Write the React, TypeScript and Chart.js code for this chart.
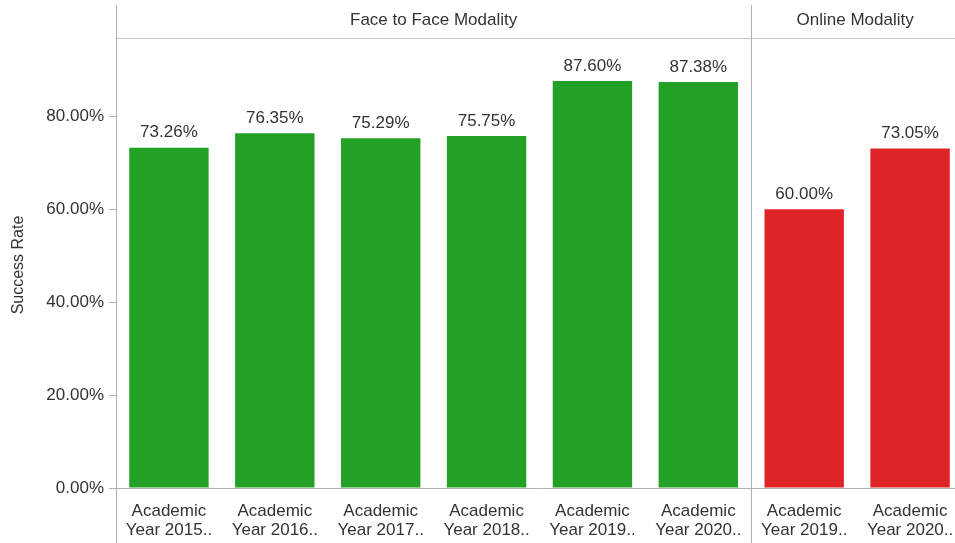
import React, { useEffect, useRef } from "react";
import { Chart, registerables } from "chart.js";

Chart.register(...registerables);

const categories: string[][] = [
  ["Academic", "Year 2015.."],
  ["Academic", "Year 2016.."],
  ["Academic", "Year 2017.."],
  ["Academic", "Year 2018.."],
  ["Academic", "Year 2019.."],
  ["Academic", "Year 2020.."],
  ["Academic", "Year 2019.."],
  ["Academic", "Year 2020.."],
];
const successRates: number[] = [73.26, 76.35, 75.29, 75.75, 87.6, 87.38, 60.0, 73.05];
const modality: string[] = ["F2F", "F2F", "F2F", "F2F", "F2F", "F2F", "Online", "Online"];
const panelHeaders: { label: string; from: number; to: number }[] = [
  { label: "Face to Face Modality", from: 0, to: 6 },
  { label: "Online Modality", from: 6, to: 8 },
];
const yTicks: number[] = [0, 20, 40, 60, 80];

const GREEN = "#22a126";
const RED = "#de2426";
const TEXT = "#333333";
const FONT = "'Liberation Sans', Arial, sans-serif";

export default function App() {
  const ref = useRef<HTMLCanvasElement | null>(null);

  useEffect(() => {
    if (!ref.current) return;
    const overlay = {
      id: "overlay",
      afterDatasetsDraw(chart: any) {
        const ctx = chart.ctx as CanvasRenderingContext2D;
        const area = chart.chartArea;
        const xs = chart.scales.x;
        const meta = chart.getDatasetMeta(0);
        ctx.save();
        // value labels
        ctx.font = `17px ${FONT}`;
        ctx.fillStyle = TEXT;
        ctx.textAlign = "center";
        ctx.textBaseline = "middle";
        meta.data.forEach((bar: any, i: number) => {
          ctx.fillText(successRates[i].toFixed(2) + "%", bar.x, bar.y - 15);
        });
        // lines
        ctx.strokeStyle = "#c4c4c4";
        ctx.lineWidth = 1;
        const halfW = (xs.getPixelForValue(1) - xs.getPixelForValue(0)) / 2;
        // header line
        ctx.beginPath();
        ctx.moveTo(area.left, 38.5);
        ctx.lineTo(chart.width, 38.5);
        ctx.stroke();
        // baseline
        ctx.strokeStyle = "#b0b0b0";
        ctx.beginPath();
        ctx.moveTo(area.left, Math.round(area.bottom) + 0.5);
        ctx.lineTo(chart.width, Math.round(area.bottom) + 0.5);
        ctx.stroke();
        // y axis line
        ctx.beginPath();
        ctx.moveTo(Math.round(area.left) + 0.5, 5);
        ctx.lineTo(Math.round(area.left) + 0.5, chart.height);
        ctx.stroke();
        // panel divider(s)
        panelHeaders.slice(1).forEach((p) => {
          const x = Math.round(xs.getPixelForValue(p.from) - halfW) + 0.5;
          ctx.beginPath();
          ctx.moveTo(x, 5);
          ctx.lineTo(x, chart.height);
          ctx.stroke();
        });
        // headers
        ctx.fillStyle = TEXT;
        ctx.font = `17px ${FONT}`;
        panelHeaders.forEach((p, idx) => {
          const l = xs.getPixelForValue(p.from) - halfW;
          let r = xs.getPixelForValue(p.to - 1) + halfW;
          if (idx === panelHeaders.length - 1) r = Math.min(r, 955);
          ctx.fillText(p.label, (l + r) / 2 + (idx === 1 ? 2 : 0), 20);
        });
        ctx.restore();
      },
    };

    const chart = new Chart(ref.current, {
      type: "bar",
      data: {
        labels: categories,
        datasets: [
          {
            label: "Success Rate",
            data: successRates,
            backgroundColor: modality.map((m) => (m === "F2F" ? GREEN : RED)),
            borderWidth: 0,
            categoryPercentage: 1,
            barPercentage: 0.75,
          },
        ],
      },
      options: {
        responsive: false,
        animation: false,
        layout: { padding: { top: 42, left: 0, right: 0, bottom: 0 } },
        plugins: {
          legend: { display: false },
          tooltip: { enabled: false },
        },
        scales: {
          x: {
            type: "category",
            grid: { display: false },
            border: { display: false },
            ticks: {
              color: TEXT,
              font: { family: FONT, size: 17, lineHeight: 1.1 },
              padding: 6,
              maxRotation: 0,
              autoSkip: false,
            },
            afterFit: (s: any) => {
              s.height = 55;
            },
          },
          y: {
            min: 0,
            max: 96,
            grid: {
              drawOnChartArea: false,
              drawTicks: true,
              tickLength: 7,
              color: "#b0b0b0",
            },
            border: { display: false },
            afterBuildTicks: (s: any) => {
              s.ticks = yTicks.map((v) => ({ value: v }));
            },
            ticks: {
              color: TEXT,
              font: { family: FONT, size: 17 },
              padding: 5,
              callback: (v: any) => Number(v).toFixed(2) + "%",
            },
            title: {
              display: true,
              text: "Success Rate",
              color: TEXT,
              font: { family: FONT, size: 16 },
              padding: { top: 9, bottom: 0 },
            },
            afterFit: (s: any) => {
              s.width = 116;
            },
          },
        },
      },
      plugins: [overlay],
    });
    return () => chart.destroy();
  }, []);

  return (
    <div
      style={{
        position: "fixed",
        left: 0,
        top: 0,
        width: 955,
        height: 543,
        overflow: "hidden",
        background: "#ffffff",
      }}
    >
      <canvas ref={ref} width={963} height={543} style={{ width: 963, height: 543, display: "block" }} />
    </div>
  );
}
